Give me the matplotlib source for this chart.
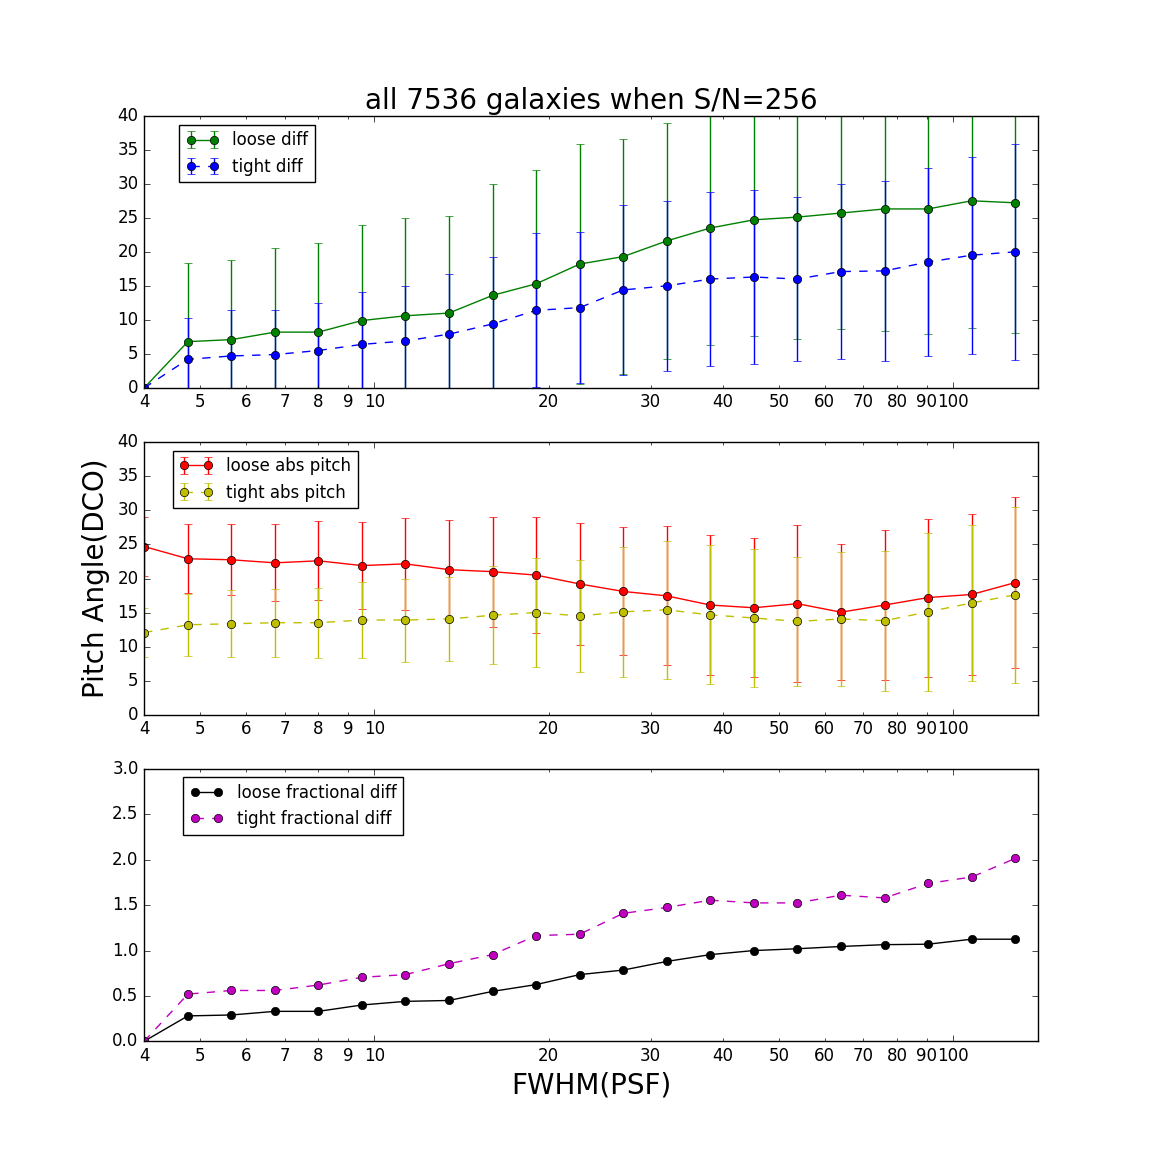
import matplotlib
matplotlib.use("Agg")
import matplotlib.pyplot as plt

# FWHM(PSF) sampling
fwhm = [4.0, 4.76, 5.66, 6.73, 8.0, 9.51, 11.31, 13.45, 16.0, 19.03, 22.63,
        26.91, 32.0, 38.05, 45.25, 53.82, 64.0, 76.11, 90.51, 107.63, 128.0]

loose_diff = [0, 6.8, 7.1, 8.2, 8.2, 9.9, 10.6, 11.0, 13.6, 15.3, 18.2,
              19.3, 21.6, 23.5, 24.7, 25.1, 25.7, 26.3, 26.3, 27.5, 27.2]
loose_diff_err = [0, 11.5, 11.7, 12.4, 13.1, 14.0, 14.4, 14.3, 16.3, 16.7, 17.6,
                  17.3, 17.3, 17.2, 17.1, 17.9, 17.1, 18.0, 18.4, 18.7, 19.2]
tight_diff = [0, 4.2, 4.7, 4.9, 5.5, 6.4, 6.9, 7.9, 9.4, 11.4, 11.8,
              14.4, 15.0, 16.0, 16.3, 16.0, 17.1, 17.2, 18.5, 19.5, 20.0]
tight_diff_err = [0, 6.1, 6.7, 6.5, 7.0, 7.7, 8.1, 8.8, 9.9, 11.3, 11.1,
                  12.5, 12.5, 12.8, 12.8, 12.0, 12.9, 13.2, 13.8, 14.5, 15.9]

loose_abs = [24.7, 22.9, 22.75, 22.3, 22.6, 21.9, 22.15, 21.3, 21.0, 20.5, 19.2,
             18.1, 17.45, 16.1, 15.7, 16.3, 15.05, 16.1, 17.2, 17.65, 19.4]
loose_abs_err = [4.4, 5.1, 5.2, 5.65, 5.8, 6.4, 6.8, 7.3, 8.1, 8.55, 9.0,
                 9.4, 10.2, 10.3, 10.2, 11.5, 10.0, 11.0, 11.6, 11.85, 12.6]
tight_abs = [12.05, 13.2, 13.35, 13.5, 13.5, 13.9, 13.9, 14.05, 14.6, 15.0, 14.5,
             15.1, 15.4, 14.65, 14.2, 13.7, 14.05, 13.8, 15.1, 16.4, 17.6]
tight_abs_err = [3.65, 4.55, 4.9, 5.0, 5.15, 5.6, 6.1, 6.2, 7.2, 8.0, 8.2,
                 9.6, 10.1, 10.2, 10.2, 9.5, 9.85, 10.3, 11.6, 11.4, 12.95]

loose_frac = [0, 0.28, 0.29, 0.33, 0.33, 0.40, 0.44, 0.45, 0.55, 0.625, 0.735,
              0.785, 0.88, 0.955, 1.0, 1.02, 1.045, 1.065, 1.07, 1.125, 1.125]
tight_frac = [0, 0.52, 0.56, 0.56, 0.62, 0.705, 0.735, 0.855, 0.955, 1.165, 1.18,
              1.41, 1.475, 1.555, 1.525, 1.525, 1.61, 1.58, 1.74, 1.81, 2.015]

major_pos = [10, 100]
major_lab = ["10", "100"]
minor_pos = [4, 5, 6, 7, 8, 9, 20, 30, 40, 50, 60, 70, 80, 90]
minor_lab = ["4", "5", "6", "7", "8", "9", "20", "30", "40", "50",
             "60", "70", "80", "90"]

plt.style.use("classic")
fig, axes = plt.subplots(3, 1, figsize=(11.53, 11.57), dpi=100)

ax = axes[0]
ax.errorbar(fwhm, loose_diff, yerr=loose_diff_err, fmt="g-o", label="loose diff")
ax.errorbar(fwhm, tight_diff, yerr=tight_diff_err, fmt="b--o", label="tight diff")
ax.set_ylim(0, 40)
ax.set_title("all 7536 galaxies when S/N=256", fontsize=20)
ax.legend(loc="upper left", bbox_to_anchor=(0.039, 0.967), borderaxespad=0,
          fontsize=12)

ax = axes[1]
ax.errorbar(fwhm, loose_abs, yerr=loose_abs_err, fmt="r-o", label="loose abs pitch")
ax.errorbar(fwhm, tight_abs, yerr=tight_abs_err, fmt="y--o", label="tight abs pitch")
ax.set_ylim(0, 40)
ax.set_ylabel("Pitch Angle(DCO)", fontsize=20)
ax.legend(loc="upper left", bbox_to_anchor=(0.032, 0.97), borderaxespad=0,
          fontsize=12)

ax = axes[2]
ax.plot(fwhm, loose_frac, "k-o", label="loose fractional diff")
ax.plot(fwhm, tight_frac, "m--o", label="tight fractional diff")
ax.set_ylim(0, 3.0)
ax.set_xlabel("FWHM(PSF)", fontsize=20)
ax.legend(loc="upper left", bbox_to_anchor=(0.044, 0.97), borderaxespad=0,
          fontsize=12)

for ax in axes:
    ax.set_xscale("log")
    ax.set_xlim(4, 140)
    ax.set_xticks(major_pos, major_lab)
    ax.set_xticks(minor_pos, minor_lab, minor=True)

fig.savefig("out.png", dpi=100)
